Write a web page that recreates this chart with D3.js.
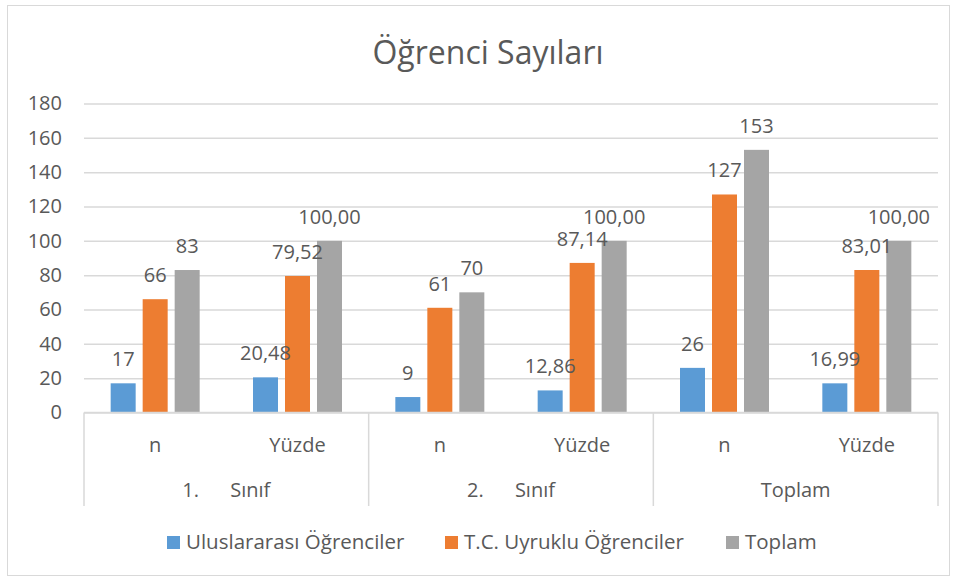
<!DOCTYPE html>
<html>
<head>
<meta charset="utf-8">
<script src="https://cdn.jsdelivr.net/npm/d3@7"></script>
<style>
  body { margin: 0; background: #fff; }
  text { font-family: "Open Sans", sans-serif; fill: #595959; }
</style>
</head>
<body>
<div class="svg-container"></div>
<script>
// data
var groups = ["1.      Sınıf", "2.      Sınıf", "Toplam"];
var subCats = ["n", "Yüzde"];
var seriesNames = ["Uluslararası Öğrenciler", "T.C. Uyruklu Öğrenciler", "Toplam"];
var seriesColors = ["#5b9bd5", "#ed7d31", "#a5a5a5"];
var uluslararasi = [17, 20.48, 9, 12.86, 26, 16.99];
var tcUyruklu = [66, 79.52, 61, 87.14, 127, 83.01];
var toplam = [83, 100, 70, 100, 153, 100];
var yTicks = [0, 20, 40, 60, 80, 100, 120, 140, 160, 180];

var values = [uluslararasi, tcUyruklu, toplam];
var cats = [];
groups.forEach(function(g, gi) {
    subCats.forEach(function(s, si) {
        cats.push({ id: gi + "-" + si, group: g, sub: s });
    });
});

var width = 954, height = 579;
var plotLeft = 84, plotRight = 938, plotTop = 103.5, plotBottom = 412.5;

var svg = d3.select(".svg-container").append("svg")
    .attr("width", width)
    .attr("height", height);

// frame
svg.append("rect")
    .attr("x", 7.5).attr("y", 5.5)
    .attr("width", 942).attr("height", 570)
    .attr("fill", "#fff")
    .attr("stroke", "#d9d9d9");

// title
svg.append("text")
    .attr("x", 488).attr("y", 64)
    .attr("text-anchor", "middle")
    .style("font-size", "32px")
    .text("Öğrenci Sayıları");

var x0 = d3.scaleBand().domain(cats.map(function(c) { return c.id; }))
    .range([plotLeft, plotRight]);
var x1 = d3.scaleBand().domain(d3.range(3))
    .range([-48, 48]).paddingInner(7 / 32).paddingOuter(3.5 / 32);
var y = d3.scaleLinear().domain([0, 180]).range([plotBottom, plotTop]);

// Y axis + grid
var yAxis = svg.append("g")
    .attr("transform", "translate(" + plotLeft + ",0)")
    .call(d3.axisLeft(y).tickValues(yTicks).tickSize(-(plotRight - plotLeft)).tickPadding(22));
yAxis.select(".domain").remove();
yAxis.selectAll(".tick line").attr("stroke", "#d9d9d9").attr("stroke-width", 1.5);
yAxis.selectAll(".tick text")
    .attr("fill", "#595959")
    .style("font-size", "20px")
    .style("font-family", "Open Sans");

// bars
var catG = svg.selectAll(".cat")
    .data(cats)
    .enter().append("g")
    .attr("class", "cat")
    .attr("transform", function(c) { return "translate(" + (x0(c.id) + x0.bandwidth() / 2) + ",0)"; });

catG.each(function(c, ci) {
    var g = d3.select(this);
    var rows = values.map(function(v, si) { return { s: si, v: v[ci], sub: c.sub }; });
    g.selectAll("rect")
        .data(rows)
        .enter().append("rect")
        .attr("x", function(d) { return x1(d.s); })
        .attr("width", x1.bandwidth())
        .attr("y", function(d) { return y(d.v); })
        .attr("height", function(d) { return y(0) - y(d.v); })
        .attr("fill", function(d) { return seriesColors[d.s]; });
    g.selectAll(".lbl")
        .data(rows)
        .enter().append("text")
        .attr("class", "lbl")
        .attr("x", function(d) { return x1(d.s) + x1.bandwidth() / 2; })
        .attr("y", function(d) { return y(d.v) - 17; })
        .attr("text-anchor", "middle")
        .style("font-size", "20px")
        .text(function(d) {
            return d.sub === "Yüzde" ? d.v.toFixed(2).replace(".", ",") : d3.format("d")(d.v);
        });
});

// category axis
svg.append("line")
    .attr("x1", plotLeft).attr("x2", plotRight)
    .attr("y1", plotBottom).attr("y2", plotBottom)
    .attr("stroke", "#d9d9d9").attr("stroke-width", 1.5);

var sepX = [plotLeft].concat(groups.map(function(g, gi) { return x0(cats[gi * 2 + 1].id) + x0.bandwidth(); }));
svg.selectAll(".sep")
    .data(sepX)
    .enter().append("line")
    .attr("class", "sep")
    .attr("x1", function(d) { return d; }).attr("x2", function(d) { return d; })
    .attr("y1", plotBottom).attr("y2", 506)
    .attr("stroke", "#d9d9d9").attr("stroke-width", 1.5);

svg.selectAll(".subLbl")
    .data(cats)
    .enter().append("text")
    .attr("class", "subLbl")
    .attr("x", function(c) { return x0(c.id) + x0.bandwidth() / 2; })
    .attr("y", 452)
    .attr("text-anchor", "middle")
    .style("font-size", "20px")
    .text(function(c) { return c.sub; });

svg.selectAll(".grpLbl")
    .data(groups)
    .enter().append("text")
    .attr("class", "grpLbl")
    .attr("x", function(g, gi) { return x0(cats[gi * 2].id) + x0.bandwidth(); })
    .attr("y", 497)
    .attr("text-anchor", "middle")
    .style("font-size", "20px")
    .style("white-space", "pre")
    .text(function(g) { return g; });

// legend
var legendX = [167, 445, 726];
var leg = svg.selectAll(".leg")
    .data(seriesNames)
    .enter().append("g")
    .attr("class", "leg")
    .attr("transform", function(d, i) { return "translate(" + legendX[i] + ",536)"; });
leg.append("rect")
    .attr("width", 13).attr("height", 13)
    .attr("fill", function(d, i) { return seriesColors[i]; });
leg.append("text")
    .attr("x", 19).attr("y", 13)
    .style("font-size", "20.5px")
    .text(function(d) { return d; });
</script>
</body>
</html>
